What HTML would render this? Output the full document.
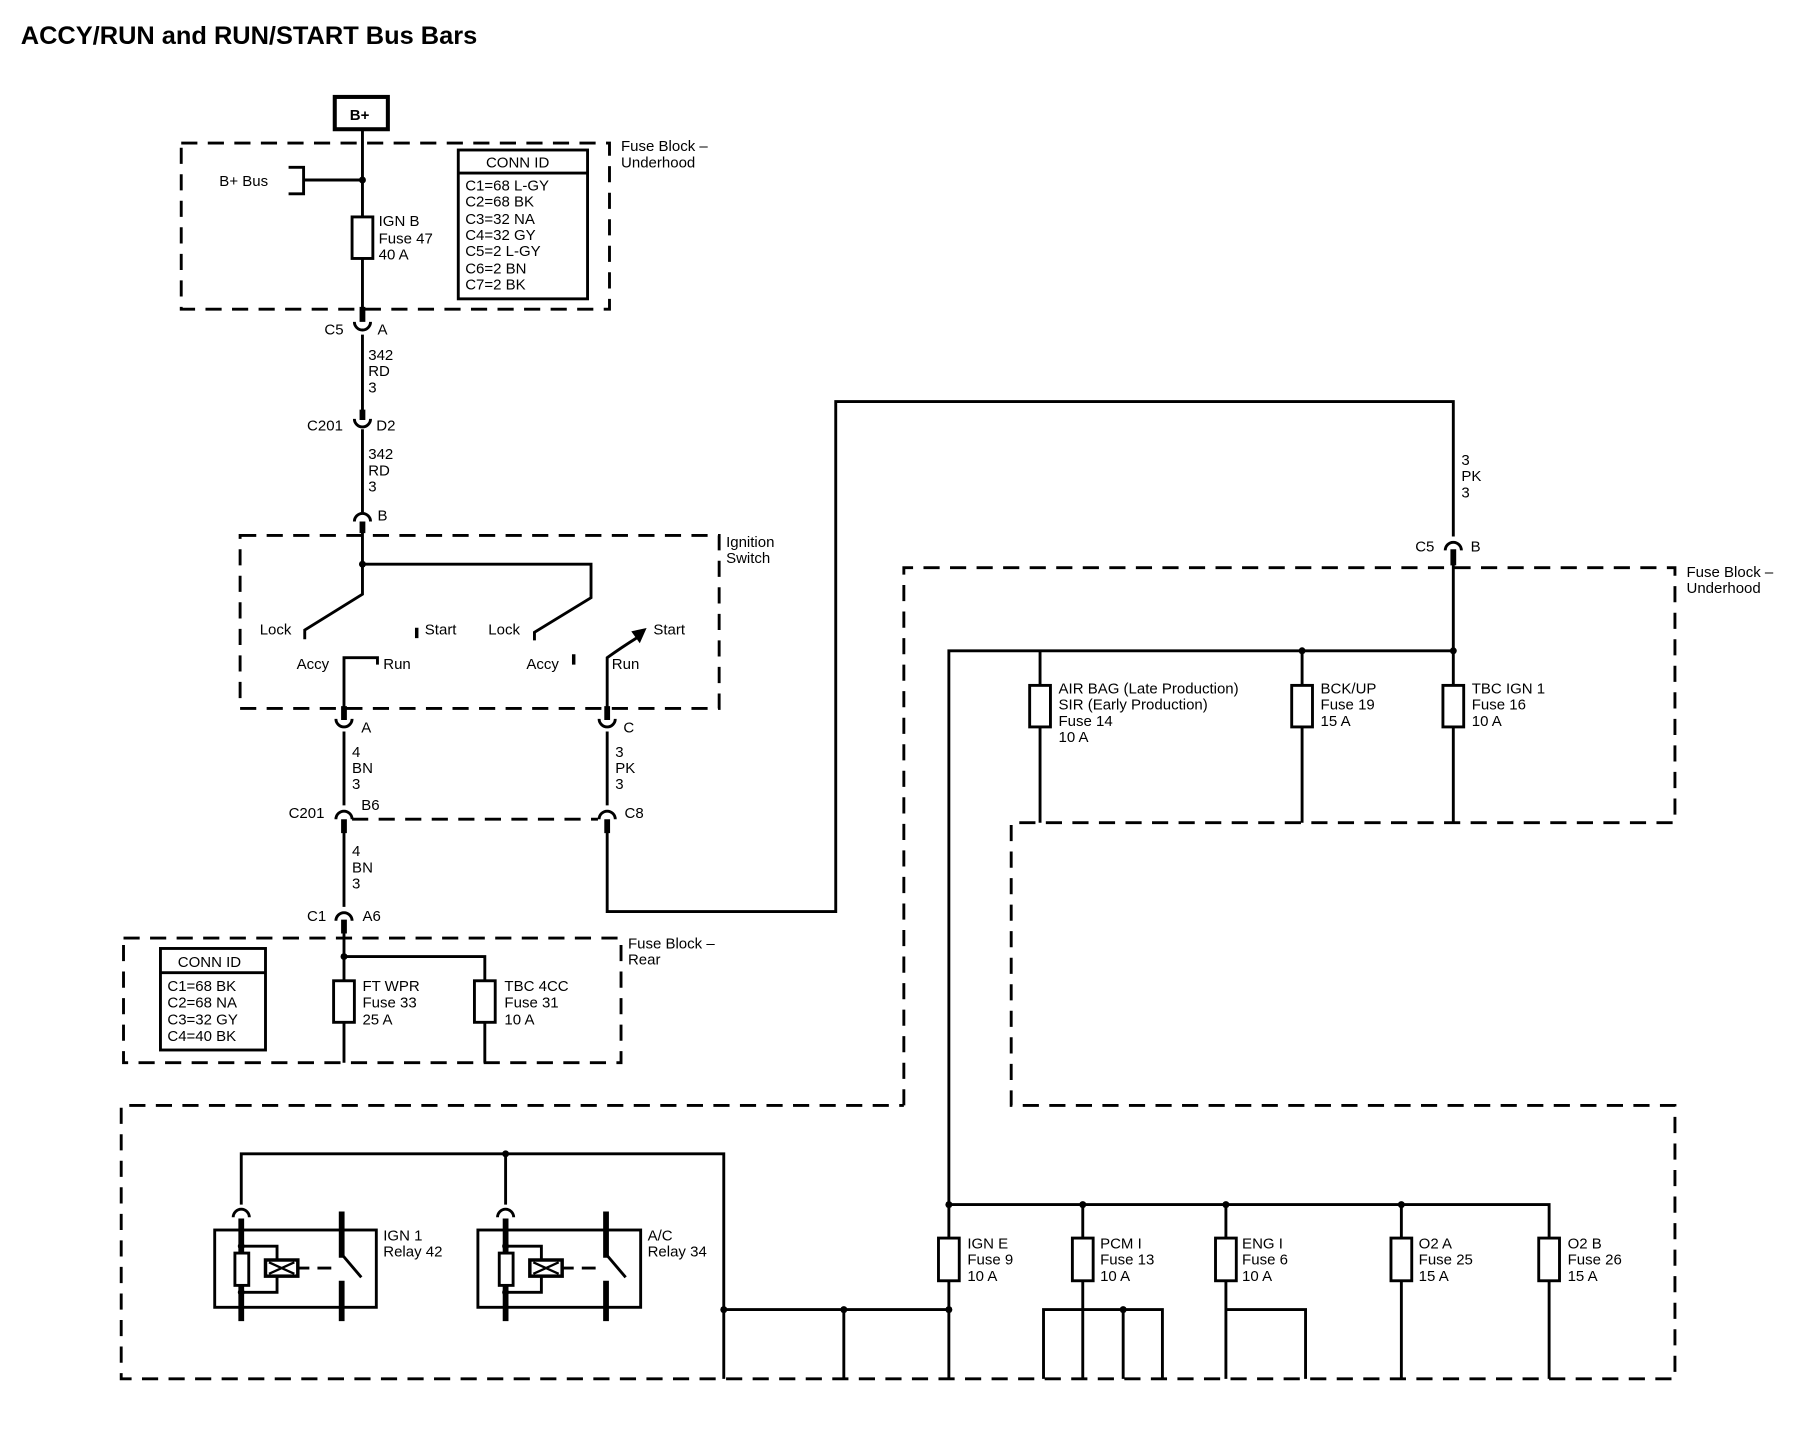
<!DOCTYPE html>
<html><head><meta charset="utf-8"><style>
html,body{margin:0;padding:0;background:#fff;}
svg{display:block;}
text{font-family:"Liberation Sans",Arial,sans-serif;font-size:13px;fill:#000;}
.b{font-weight:bold;}
</style></head><body>
<svg width="1810" height="1440" viewBox="0 0 1568 1248" preserveAspectRatio="none" xmlns="http://www.w3.org/2000/svg">
<g fill="none" stroke="#000" stroke-width="2.5">
<g stroke-dasharray="14,9">
<rect x="157" y="124" width="371" height="144"/>
<rect x="208" y="464" width="415" height="150"/>
<rect x="107" y="813" width="431" height="108"/>
<path d="M783 958 V492 H1451 V713 H876 V958 H1451 V1195 H105 V958 H783"/>
<line x1="305" y1="710" x2="518" y2="710"/>
</g>
<rect x="290" y="84" width="46" height="28" stroke-width="3.5"/>
<path d="M314 112 V278"/>
<path d="M250 145 H263 V168 H250 M263 156 H314"/>
<rect x="305" y="188" width="18" height="36" fill="#fff"/>
<rect x="397" y="130" width="112" height="129"/>
<line x1="397" y1="150" x2="509" y2="150"/>
<path d="M314 290 V360 M314 372 V444"/>
<path d="M314 455 V515 L264 546 V554 M314 489 H512 V518 L463 548 V555"/>
<path d="M361 544 V553 M497 567 V576" stroke-width="3"/>
<path d="M298 622 V570 H327 V576 M526 622 V570 Q540 560 553 552"/>
<path d="M549 548 L558 546 L554 555Z" fill="#000"/>
<path d="M298 634 V698 M526 634 V698 M298 712 V786 M526 712 V790 H724 V348 H1259 V465 M1259 478 V713"/>
<path d="M298 800 V921 M298 829 H420 V921"/>
<rect x="289" y="850" width="18" height="36" fill="#fff"/>
<rect x="411" y="850" width="18" height="36" fill="#fff"/>
<rect x="139" y="822" width="91" height="88"/>
<line x1="139" y1="843" x2="230" y2="843"/>
<path d="M822 1195 V564 H1259 M901 564 V713 M1128 564 V713"/>
<rect x="892" y="594" width="18" height="36" fill="#fff"/>
<rect x="1119" y="594" width="18" height="36" fill="#fff"/>
<rect x="1250" y="594" width="18" height="36" fill="#fff"/>
<path d="M822 1044 H1342 V1195 M938 1044 V1195 M904 1195 V1135 H1007 V1195 M973 1135 V1195 M1062 1044 V1195 M1062 1135 H1131 V1195 M1214 1044 V1195"/>
<rect x="813" y="1073" width="18" height="37" fill="#fff"/>
<rect x="929" y="1073" width="18" height="37" fill="#fff"/>
<rect x="1053" y="1073" width="18" height="37" fill="#fff"/>
<rect x="1205" y="1073" width="18" height="37" fill="#fff"/>
<rect x="1333" y="1073" width="18" height="37" fill="#fff"/>
<path d="M627 1195 V1000 H209 V1044 M438 1000 V1044 M627 1135 H822 M731 1135 V1195"/>
<rect x="186" y="1066" width="140" height="67"/>
<path d="M209 1080 H240 V1120 H209"/>
<rect x="203.5" y="1086" width="12" height="28" fill="#fff"/>
<rect x="230" y="1092" width="28" height="14" fill="#fff" stroke-width="3"/>
<path d="M233 1094 L255 1104 M233 1104 L255 1094" stroke-width="2"/>
<path d="M258 1099 H268 M275 1099 H287" stroke-width="2.5"/>
<path d="M296 1087 L313 1107"/>
<rect x="414" y="1066" width="141" height="67"/>
<path d="M438 1080 H469 V1120 H438"/>
<rect x="432.5" y="1086" width="12" height="28" fill="#fff"/>
<rect x="459" y="1092" width="28" height="14" fill="#fff" stroke-width="3"/>
<path d="M462 1094 L484 1104 M462 1104 L484 1094" stroke-width="2"/>
<path d="M487 1099 H497 M504 1099 H516" stroke-width="2.5"/>
<path d="M525 1087 L542 1107"/>
<g stroke-width="5">
<path d="M209 1056 V1086 M209 1114 V1145 M296 1050 V1090 M296 1110 V1145"/>
<path d="M438 1056 V1086 M438 1114 V1145 M525 1050 V1090 M525 1110 V1145"/>
<path d="M314 266 V279 M314 355 V364 M314 452 V462 M298 612 V624 M526 612 V624 M298 710 V722 M526 710 V722 M298 797 V809 M1259 476 V490"/>
</g>
<path d="M307 279 A7 7 0 0 0 321 279 M307 363 A7 7 0 0 0 321 363 M291 623 A7 7 0 0 0 305 623 M519 623 A7 7 0 0 0 533 623"/>
<path d="M307 452 A7 7 0 0 1 321 452 M291 710 A7 7 0 0 1 305 710 M519 710 A7 7 0 0 1 533 710 M291 798 A7 7 0 0 1 305 798 M1252 477 A7 7 0 0 1 1266 477 M202 1055 A7 7 0 0 1 216 1055 M431 1055 A7 7 0 0 1 445 1055"/>
</g>
<g fill="#000">
<circle cx="314" cy="156" r="3"/><circle cx="314" cy="489" r="3"/><circle cx="298" cy="829" r="3"/>
<circle cx="1128" cy="564" r="3"/><circle cx="1259" cy="564" r="3"/>
<circle cx="822" cy="1044" r="3"/><circle cx="938" cy="1044" r="3"/><circle cx="1062" cy="1044" r="3"/><circle cx="1214" cy="1044" r="3"/>
<circle cx="627" cy="1135" r="3"/><circle cx="731" cy="1135" r="3"/><circle cx="822" cy="1135" r="3"/>
<circle cx="973" cy="1135" r="3"/><circle cx="438" cy="1000" r="3"/>
<circle cx="209" cy="1080" r="3"/><circle cx="209" cy="1120" r="3"/><circle cx="438" cy="1080" r="3"/><circle cx="438" cy="1120" r="3"/>
</g>
<text x="18" y="38" class="b" style="font-size:22px">ACCY/RUN and RUN/START Bus Bars</text>
<text x="303" y="104" class="b">B+</text>
<text x="190" y="161">B+ Bus</text>
<text x="328" y="196">IGN B</text><text x="328" y="211">Fuse 47</text><text x="328" y="225">40 A</text>
<text x="421" y="145">CONN ID</text>
<text x="403" y="165">C1=68 L-GY</text><text x="403" y="179">C2=68 BK</text><text x="403" y="194">C3=32 NA</text><text x="403" y="208">C4=32 GY</text><text x="403" y="222">C5=2 L-GY</text><text x="403" y="237">C6=2 BN</text><text x="403" y="251">C7=2 BK</text>
<text x="538" y="131">Fuse Block –</text><text x="538" y="145">Underhood</text>
<text x="281" y="290">C5</text><text x="327" y="290">A</text>
<text x="319" y="312">342</text><text x="319" y="326">RD</text><text x="319" y="340">3</text>
<text x="266" y="373">C201</text><text x="326" y="373">D2</text>
<text x="319" y="398">342</text><text x="319" y="412">RD</text><text x="319" y="426">3</text>
<text x="327" y="451">B</text>
<text x="629" y="474">Ignition</text><text x="629" y="488">Switch</text>
<text x="225" y="550">Lock</text><text x="368" y="550">Start</text><text x="423" y="550">Lock</text><text x="566" y="550">Start</text>
<text x="257" y="580">Accy</text><text x="332" y="580">Run</text><text x="456" y="580">Accy</text><text x="530" y="580">Run</text>
<text x="313" y="635">A</text><text x="540" y="635">C</text>
<text x="305" y="656">4</text><text x="305" y="670">BN</text><text x="305" y="684">3</text>
<text x="533" y="656">3</text><text x="533" y="670">PK</text><text x="533" y="684">3</text>
<text x="250" y="709">C201</text><text x="313" y="702">B6</text><text x="541" y="709">C8</text>
<text x="305" y="742">4</text><text x="305" y="756">BN</text><text x="305" y="770">3</text>
<text x="266" y="798">C1</text><text x="314" y="798">A6</text>
<text x="544" y="822">Fuse Block –</text><text x="544" y="836">Rear</text>
<text x="154" y="838">CONN ID</text>
<text x="145" y="859">C1=68 BK</text><text x="145" y="873">C2=68 NA</text><text x="145" y="888">C3=32 GY</text><text x="145" y="902">C4=40 BK</text>
<text x="314" y="859">FT WPR</text><text x="314" y="873">Fuse 33</text><text x="314" y="888">25 A</text>
<text x="437" y="859">TBC 4CC</text><text x="437" y="873">Fuse 31</text><text x="437" y="888">10 A</text>
<text x="1266" y="403">3</text><text x="1266" y="417">PK</text><text x="1266" y="431">3</text>
<text x="1226" y="478">C5</text><text x="1274" y="478">B</text>
<text x="1461" y="500">Fuse Block –</text><text x="1461" y="514">Underhood</text>
<text x="917" y="601">AIR BAG (Late Production)</text><text x="917" y="615">SIR (Early Production)</text><text x="917" y="629">Fuse 14</text><text x="917" y="643">10 A</text>
<text x="1144" y="601">BCK/UP</text><text x="1144" y="615">Fuse 19</text><text x="1144" y="629">15 A</text>
<text x="1275" y="601">TBC IGN 1</text><text x="1275" y="615">Fuse 16</text><text x="1275" y="629">10 A</text>
<text x="838" y="1082">IGN E</text><text x="838" y="1096">Fuse 9</text><text x="838" y="1110">10 A</text>
<text x="953" y="1082">PCM I</text><text x="953" y="1096">Fuse 13</text><text x="953" y="1110">10 A</text>
<text x="1076" y="1082">ENG I</text><text x="1076" y="1096">Fuse 6</text><text x="1076" y="1110">10 A</text>
<text x="1229" y="1082">O2 A</text><text x="1229" y="1096">Fuse 25</text><text x="1229" y="1110">15 A</text>
<text x="1358" y="1082">O2 B</text><text x="1358" y="1096">Fuse 26</text><text x="1358" y="1110">15 A</text>
<text x="332" y="1075">IGN 1</text><text x="332" y="1089">Relay 42</text>
<text x="561" y="1075">A/C</text><text x="561" y="1089">Relay 34</text>
</svg>
</body></html>
